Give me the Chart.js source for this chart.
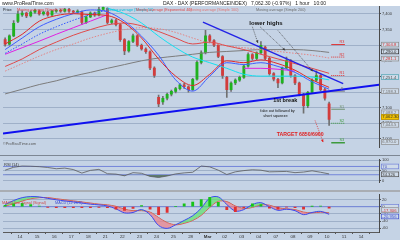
<!DOCTYPE html>
<html>
<head>
<meta charset="utf-8">
<script src="https://cdn.jsdelivr.net/npm/chart.js@4.4.1/dist/chart.umd.min.js"></script>
<style>
  html, body { margin: 0; padding: 0; }
  body { width: 400px; height: 240px; position: relative; overflow: hidden; background: #c5d3e5; }
  canvas { position: absolute; left: 0; }
  .sep { position: absolute; left: 0; width: 400px; }
</style>
</head>
<body>
<canvas id="price" width="400" height="157" style="top:0"></canvas>
<canvas id="rsi" width="400" height="35" style="top:156px"></canvas>
<canvas id="macd" width="400" height="49" style="top:191px"></canvas>
<div class="sep" style="top:155px;height:1px;background:#7d8794"></div>
<div class="sep" style="top:190px;height:2px;background:#a9adb3"></div>
<script>
// DAX hourly, 11 Feb - 10 Mar. Four bars per session, index 0 = first bar of 11 Feb.
const DAY_LABELS = ['14', '15', '16', '17', '18', '21', '22', '23', '24', '25', '28', 'Mar',
  '02', '03', '04', '07', '08', '09', '10', '11', '14'];

const OPEN = [7318, 7303, 7330, 7376, 7397, 7403, 7394, 7406, 7409, 7400, 7406, 7397, 7409, 7412, 7409, 7415,
  7409, 7406, 7406, 7373, 7391, 7403, 7397, 7415, 7418, 7373, 7379, 7366, 7318, 7282, 7312, 7330,
  7300, 7288, 7279, 7227, 7133, 7118, 7130, 7143, 7152, 7161, 7173, 7167, 7158, 7191, 7245, 7276,
  7330, 7315, 7300, 7264, 7197, 7158, 7179, 7188, 7197, 7233, 7270, 7258, 7276, 7294, 7258, 7209,
  7191, 7179, 7227, 7251, 7203, 7179, 7143, 7106, 7149, 7188, 7203, 7158, 7112];
const HIGH = [7324, 7333, 7379, 7409, 7410, 7406, 7410, 7416, 7413, 7409, 7409, 7412, 7416, 7415, 7418, 7418,
  7412, 7413, 7409, 7394, 7407, 7406, 7422, 7423, 7420, 7384, 7383, 7369, 7321, 7315, 7336, 7333,
  7304, 7292, 7282, 7231, 7140, 7136, 7147, 7156, 7165, 7177, 7178, 7170, 7194, 7250, 7282, 7348,
  7334, 7318, 7303, 7267, 7200, 7183, 7192, 7201, 7236, 7276, 7273, 7279, 7312, 7297, 7261, 7212,
  7194, 7230, 7262, 7254, 7206, 7182, 7146, 7152, 7192, 7218, 7206, 7162, 7118];
const LOW = [7297, 7300, 7327, 7372, 7392, 7388, 7391, 7402, 7396, 7396, 7393, 7394, 7405, 7405, 7406, 7405,
  7402, 7402, 7366, 7370, 7388, 7392, 7394, 7412, 7368, 7368, 7362, 7312, 7270, 7278, 7308, 7296,
  7284, 7274, 7222, 7197, 7103, 7110, 7125, 7138, 7147, 7157, 7162, 7150, 7155, 7188, 7240, 7272,
  7310, 7295, 7260, 7194, 7133, 7152, 7174, 7184, 7194, 7230, 7252, 7254, 7272, 7254, 7204, 7186,
  7164, 7176, 7224, 7198, 7174, 7138, 7082, 7100, 7145, 7184, 7154, 7124, 7043];
const CLOSE = [7303, 7330, 7370, 7400, 7403, 7394, 7406, 7412, 7400, 7406, 7397, 7409, 7412, 7409, 7415, 7409,
  7406, 7409, 7373, 7391, 7403, 7397, 7415, 7421, 7373, 7379, 7366, 7318, 7282, 7312, 7330, 7300,
  7288, 7279, 7227, 7203, 7112, 7130, 7143, 7152, 7161, 7173, 7167, 7158, 7191, 7245, 7276, 7330,
  7315, 7300, 7264, 7203, 7158, 7179, 7188, 7197, 7233, 7270, 7258, 7276, 7300, 7258, 7209, 7191,
  7179, 7227, 7251, 7203, 7179, 7143, 7106, 7149, 7188, 7203, 7158, 7130, 7062];

// moving averages, one reading per session start
const MA20 = [7304, 7335, 7377, 7395, 7401, 7398, 7395, 7371, 7323, 7256, 7201, 7171, 7207, 7250, 7244, 7253, 7241, 7220, 7189, 7165];
const EMA40 = [7232, 7256, 7286, 7310, 7332, 7350, 7365, 7371, 7362, 7344, 7323, 7304, 7310, 7298, 7286, 7271, 7256, 7241, 7226, 7210];
const MA100 = [7217, 7241, 7265, 7286, 7304, 7323, 7338, 7350, 7356, 7353, 7341, 7323, 7307, 7298, 7292, 7286, 7280, 7274, 7268, 7259];
const MA200 = [7144, 7159, 7174, 7186, 7201, 7213, 7226, 7238, 7250, 7259, 7265, 7271, 7277, 7280, 7283, 7286, 7286, 7286, 7283, 7277];
const MA50 = [null, null, null, null, null, null, 7419, 7401, 7371, 7329, 7292, 7262, 7244, 7226, 7207, 7201, 7201, 7201, 7198, 7189];
const MA_BLUE = [7286, 7323, 7359, 7383, 7401, 7413, 7407, 7377, 7329, 7268, 7189, 7153, 7201, 7244, 7238, 7244, 7232, 7213, 7183, 7159];
const MA_BLUE_DOT = [7274, 7304, 7335, 7359, 7380, 7398, 7413, null, null, null, null, null, null, null, null, null, null, null, null, null];
const MA_MAGENTA = [7271, 7292, 7313, 7335, 7356, 7377, 7398, null, null, null, null, null, null, null, 7226, 7226, 7223, 7217, null, null];

// hand-drawn trend lines: [bar index, price]
const SUPPORT = [[-0.5, 7017], [88, 7174]];
const RESISTANCE = [[46.4, 7374], [79.3, 7177]];

const PIVOT_NAMES = ['R3', 'R2', 'R1', 'P', 'S1', 'S2', 'S3'];
const PIVOT_LEVELS = [7302, 7262, 7203, 7153, 7095, 7050, 6988];
const PIVOT_SPAN = [76.5, 79.7];

const NOTE_TEXT = ['lower highs', '1st break', 'fake out followed by', 'short squeeze', 'TARGET 6850/6900'];
const NOTE_AT = [[61.2, 7371], [65.7, 7123], [63.9, 7090], [63.4, 7075], [69.2, 7014]];
const ARROWS = [
  [[58.0, 7359], [59.3, 7307]],
  [[59.8, 7359], [65.7, 7283]],
  [[64.0, 7347], [72.2, 7216]],
  [[72.7, 7059], [74.6, 6989]],
];

const PRICE_TICKS = [7000, 7050, 7100, 7150, 7200, 7250, 7300, 7350, 7400];
const PRICE_TAGS = ['7,304.8', '7,290.0', '7,281.1', '7,251.4', '7,198.3', '7,088.2', '7,062.30', '7,044.5', '6,970.0'];
const PRICE_TAG_AT = [7302, 7280, 7257, 7198, 7153, 7085, 7070, 7045, 6990];

// RSI(14) and MACD(12,26,9), one reading every second bar
const RSI = [52, 66, 72, 71, 69, 65, 59, 62, 55, 38, 51, 56, 35, 33, 25, 40, 37, 22, 17, 24,
  34, 39, 42, 72, 68, 52, 31, 44, 50, 54, 52, 44, 45, 46, 40, 43, 49, 42, 34];
const RSI_TICKS = [0, 50, 100];
const RSI_TAGS = ['70', '34.326'];
const RSI_TAG_AT = [70, 32];

const MACD = [6, 17, 25, 28, 27, 23, 19, 16, 13, 10, 7, 5, 2, -6, -17, -16, -8, -22, -52, -60,
  -50, -38, -25, -4, 24, 27, 6, -12, -8, 6, 11, 0, -10, -7, -11, -22, -16, -13, -21];
const SIGNAL = [2, 8, 16, 22, 25, 25, 22, 19, 16, 13, 10, 7, 5, 1, -7, -11, -11, -15, -30, -44,
  -50, -46, -38, -24, -2, 15, 14, 2, -5, -2, 5, 4, -3, -6, -8, -15, -17, -15, -17];
const HIST = [4, 8, 9, 6, 2, -2, -3, -3, -3, -3, -3, -2, -3, -7, -10, -5, 3, -7, -22, -16,
  0, 8, 13, 20, 26, 12, -8, -14, -3, 8, 6, -4, -7, -1, -3, -7, 1, 2, -4];
const MACD_TICKS = [-60, -40, -20, 0, 20];
const MACD_TAGS = ['0', '-17.306', '-20.956'];
const MACD_TAG_AT = [0, -9.3, -27];

const FONT = '"Liberation Sans", Arial, sans-serif';
const GRID = 'rgba(112,132,165,0.45)';
const X_MIN = -0.5;
const X_MAX = 87.7;
const BARS_PER_DAY = 4;

const pt = (pairs) => pairs.map(([x, y]) => ({ x, y }));

function xScale(show) {
  return {
    type: 'linear',
    min: X_MIN,
    max: X_MAX,
    offset: false,
    display: show,
    afterBuildTicks: (s) => {
      s.ticks = DAY_LABELS.map((_, k) => ({ value: BARS_PER_DAY * (k + 1) - 0.5 }));
    },
    afterFit: (s) => { s.height = 8; },
    ticks: {
      autoSkip: false,
      maxRotation: 0,
      padding: 0.5,
      color: '#333',
      font: (c) => ({ family: FONT, size: 4.4, weight: DAY_LABELS[c.index] === 'Mar' ? 'bold' : 'normal' }),
      callback: (v, i) => DAY_LABELS[i],
    },
    grid: { drawOnChartArea: false, tickLength: 2, tickColor: '#555' },
    border: { color: '#5a5a5a' },
  };
}

function yScale(min, max, ticks, fmt) {
  return {
    position: 'right',
    min,
    max,
    afterBuildTicks: (s) => { s.ticks = ticks.map((value) => ({ value })); },
    afterFit: (s) => { s.width = 21; },
    ticks: { font: { family: FONT, size: 4 }, color: '#3a3a3a', padding: 1, callback: fmt },
    grid: { color: GRID, tickColor: '#555', tickLength: 2 },
    border: { color: '#4a4a4a' },
  };
}

function baseOptions(padding) {
  return {
    responsive: false,
    animation: false,
    devicePixelRatio: 1,
    events: [],
    layout: { padding, autoPadding: false },
    plugins: { legend: { display: false }, tooltip: { enabled: false } },
  };
}

function maLine(values, color, width, dash, order) {
  return {
    type: 'line',
    data: values.map((v, d) => ({ x: d * BARS_PER_DAY, y: v })),
    borderColor: color,
    borderWidth: width,
    borderDash: dash,
    pointRadius: 0,
    cubicInterpolationMode: 'monotone',
    spanGaps: false,
    order,
  };
}

function flatLine(level, from, to, color, width, dash, order) {
  return {
    type: 'line',
    data: [{ x: from, y: level }, { x: to, y: level }],
    borderColor: color,
    borderWidth: width,
    borderDash: dash,
    pointRadius: 0,
    order,
  };
}

function drawTags(chart, scaleId, texts, levels, styles) {
  const { ctx, chartArea } = chart;
  const s = chart.scales[scaleId];
  const x = chartArea.right + 2;
  const w = chart.width - x - 1;
  const h = 5.4;
  ctx.save();
  ctx.font = `4.2px ${FONT}`;
  ctx.textBaseline = 'middle';
  texts.forEach((t, i) => {
    const y = s.getPixelForValue(levels[i]);
    const st = styles[i];
    ctx.fillStyle = st[0];
    ctx.fillRect(x, y - h / 2, w, h);
    ctx.strokeStyle = st[1];
    ctx.lineWidth = 0.7;
    ctx.strokeRect(x + 0.35, y - h / 2 + 0.35, w - 0.7, h - 0.7);
    ctx.fillStyle = st[2];
    ctx.fillText(t, x + 1.3, y + 0.3);
  });
  ctx.restore();
}

function arrow(ctx, x1, y1, x2, y2, color) {
  ctx.strokeStyle = color;
  ctx.fillStyle = color;
  ctx.lineWidth = 0.7;
  ctx.setLineDash([1, 1]);
  ctx.beginPath();
  ctx.moveTo(x1, y1);
  ctx.lineTo(x2, y2);
  ctx.stroke();
  ctx.setLineDash([]);
  const a = Math.atan2(y2 - y1, x2 - x1);
  ctx.beginPath();
  ctx.moveTo(x2, y2);
  ctx.lineTo(x2 - 3 * Math.cos(a - 0.45), y2 - 3 * Math.sin(a - 0.45));
  ctx.lineTo(x2 - 3 * Math.cos(a + 0.45), y2 - 3 * Math.sin(a + 0.45));
  ctx.closePath();
  ctx.fill();
}

const LEGEND = [
  ['Price', '#1a1a1a', 3],
  ['Moving average (Simple 20)', '#e03a3a', 17],
  ['Moving average (Simple 50)', '#00b8d8', 106],
  ['Moving average (Exponential 40)', '#e04a4a', 136],
  ['Moving average (Simple 100)', '#e07a7a', 189],
  ['Moving average (Simple 200)', '#6e6e6e', 256],
];
const PIVOT_STYLE = [
  ['#e03030', [], 1], ['#e03030', [1, 1], 1], ['#e03030', [1, 1], 1], ['#7a7a7a', [], 1],
  ['#6d8f6d', [], 1], ['#3d9a3d', [1, 1], 1], ['#3d9a3d', [], 1.5],
];
const NOTE_STYLE = [
  ['bold 6px', '#111'], ['bold 5.5px', '#111'], ['3.9px', '#111'], ['3.9px', '#111'], ['bold 5.2px', '#e01e1e'],
];
const TAG_STYLE = [
  ['#cfdbe9', '#8a8a8a', '#d03030'], ['#cfdbe9', '#303030', '#303030'], ['#cfdbe9', '#8a8a8a', '#d03030'],
  ['#cfdbe9', '#4aa0b0', '#505050'], ['#cfdbe9', '#8a8a8a', '#707070'], ['#cfdbe9', '#8a8a8a', '#707070'],
  ['#f2c200', '#b08a00', '#303030'], ['#cfdbe9', '#8a8a8a', '#707070'], ['#cfdbe9', '#8a8a8a', '#707070'],
];

const priceDecor = {
  id: 'priceDecor',
  beforeDraw(chart) {
    const { ctx } = chart;
    ctx.save();
    ctx.fillStyle = '#ffffff';
    ctx.fillRect(0, 0, chart.width, 6);
    ctx.fillStyle = '#222';
    ctx.font = `5px ${FONT}`;
    ctx.textBaseline = 'middle';
    ctx.fillText('www.ProRealTime.com', 2, 3.2);
    ctx.fillText('DAX - DAX (PERFORMANCEINDEX)   7,062.30 (-0.97%)   1 hour   10:00', 163, 3.2);
    ctx.restore();
  },
  afterDatasetsDraw(chart) {
    const { ctx, chartArea, scales } = chart;
    const px = (x) => scales.x.getPixelForValue(x);
    const py = (y) => scales.y.getPixelForValue(y);
    ctx.save();
    ctx.textBaseline = 'middle';
    ctx.font = `3.8px ${FONT}`;
    LEGEND.forEach(([t, c, x]) => { ctx.fillStyle = c; ctx.fillText(t, x, chartArea.top + 3.6); });
    ctx.fillStyle = '#555';
    ctx.fillText('\u00a9ProRealTime.com', 3, chartArea.bottom - 3.5);

    ARROWS.forEach(([a, b], i) => {
      arrow(ctx, px(a[0]), py(a[1]), px(b[0]), py(b[1]), i === 3 ? '#e01e1e' : '#3a3a3a');
    });

    ctx.textAlign = 'center';
    NOTE_TEXT.forEach((t, i) => {
      ctx.font = `${NOTE_STYLE[i][0]} ${FONT}`;
      ctx.fillStyle = NOTE_STYLE[i][1];
      ctx.fillText(t, px(NOTE_AT[i][0]), py(NOTE_AT[i][1]));
    });

    ctx.font = `3.8px ${FONT}`;
    PIVOT_NAMES.forEach((n, i) => {
      ctx.fillStyle = PIVOT_STYLE[i][0];
      ctx.fillText(n, px(PIVOT_SPAN[1]) - 3, py(PIVOT_LEVELS[i]) - 2.2);
    });
    ctx.restore();
  },
  afterDraw(chart) {
    drawTags(chart, 'y', PRICE_TAGS, PRICE_TAG_AT, TAG_STYLE);
  },
};

const barIdx = CLOSE.map((_, i) => i);
const isUp = (i) => CLOSE[i] >= OPEN[i];

new Chart(document.getElementById('price'), {
  type: 'bar',
  data: {
    datasets: [
      {
        type: 'bar',
        data: barIdx.map((i) => ({ x: i, y: [LOW[i], HIGH[i]] })),
        backgroundColor: '#707070',
        barThickness: 1,
        grouped: false,
        order: 21,
      },
      {
        type: 'bar',
        data: barIdx.map((i) => ({ x: i, y: [OPEN[i], CLOSE[i]] })),
        backgroundColor: barIdx.map((i) => (isUp(i) ? '#1fb21f' : '#d23c3c')),
        barThickness: 2.2,
        grouped: false,
        order: 20,
      },
      maLine(MA200, '#7c7c7c', 1, [], 12),
      maLine(MA100, '#e38585', 1, [1.5, 1.5], 11),
      maLine(EMA40, '#e04a4a', 1, [], 10),
      maLine(MA50, '#14e0f0', 1, [], 9),
      maLine(MA_MAGENTA, '#e020e0', 1, [], 8),
      maLine(MA_BLUE_DOT, '#3355ff', 1, [1.5, 1.5], 7),
      maLine(MA_BLUE, '#3f5cff', 1, [], 6),
      maLine(MA20, '#e02828', 1, [], 5),
      { type: 'line', data: pt(SUPPORT), borderColor: '#1010f0', borderWidth: 2, pointRadius: 0, order: 1 },
      { type: 'line', data: pt(RESISTANCE), borderColor: '#2323e6', borderWidth: 1.4, pointRadius: 0, order: 1 },
      ...PIVOT_LEVELS.map((lv, i) => flatLine(lv, PIVOT_SPAN[0], PIVOT_SPAN[1],
        PIVOT_STYLE[i][0], PIVOT_STYLE[i][2], PIVOT_STYLE[i][1], 2)),
    ],
  },
  options: {
    ...baseOptions({ left: 3, top: 6.5, right: 0, bottom: 2 }),
    scales: {
      x: xScale(false),
      y: yScale(6974, 7424, PRICE_TICKS, (v) => v.toLocaleString('en-US')),
    },
  },
  plugins: [priceDecor],
});

const rsiDecor = {
  id: 'rsiDecor',
  afterDatasetsDraw(chart) {
    const { ctx, chartArea } = chart;
    ctx.save();
    ctx.font = `4px ${FONT}`;
    ctx.fillStyle = '#333';
    ctx.textBaseline = 'middle';
    ctx.fillText('RSI (14)', 4, chartArea.top + 5.5);
    ctx.restore();
  },
  afterDraw(chart) {
    drawTags(chart, 'y', RSI_TAGS, RSI_TAG_AT, [
      ['#cfdbe9', '#6f7fd8', '#4a58b8'], ['#cfdbe9', '#505050', '#404040'],
    ]);
  },
};

new Chart(document.getElementById('rsi'), {
  type: 'line',
  data: {
    datasets: [
      {
        data: RSI.map((v, j) => ({ x: j * 2, y: v })),
        borderColor: '#5a5a5a',
        borderWidth: 0.8,
        pointRadius: 0,
        fill: { target: { value: 30 }, above: 'rgba(0,0,0,0)', below: '#5d7c6f' },
        order: 1,
      },
      flatLine(70, X_MIN, X_MAX, '#7384d9', 1, [], 2),
      flatLine(30, X_MIN, X_MAX, '#7384d9', 1, [], 2),
    ],
  },
  options: {
    ...baseOptions({ left: 3, top: 1, right: 0, bottom: 1 }),
    scales: {
      x: xScale(false),
      y: yScale(-5, 104, RSI_TICKS, (v) => String(v)),
    },
  },
  plugins: [rsiDecor],
});

const macdDecor = {
  id: 'macdDecor',
  afterDatasetsDraw(chart) {
    const { ctx, chartArea } = chart;
    ctx.save();
    ctx.font = `3.8px ${FONT}`;
    ctx.textBaseline = 'middle';
    ctx.fillStyle = '#d04848';
    ctx.fillText('MACD line Signal (Signal)', 2, chartArea.top + 9);
    ctx.fillStyle = '#4050d0';
    ctx.fillText('MACD (12 26 9)', 55, chartArea.top + 9);
    ctx.restore();
  },
  afterDraw(chart) {
    drawTags(chart, 'y', MACD_TAGS, MACD_TAG_AT, [
      ['#cfdbe9', '#6f7fd8', '#404040'], ['#cfdbe9', '#8a8a8a', '#d03030'], ['#cfdbe9', '#4050d0', '#4050d0'],
    ]);
  },
};

new Chart(document.getElementById('macd'), {
  type: 'bar',
  data: {
    datasets: [
      {
        type: 'line',
        data: MACD.map((v, j) => ({ x: j * 2, y: v })),
        borderColor: '#3a4af0',
        borderWidth: 1,
        pointRadius: 0,
        tension: 0.35,
        fill: { target: '+1', above: 'rgba(95,225,110,0.7)', below: 'rgba(238,125,135,0.7)' },
        order: 2,
      },
      {
        type: 'line',
        data: SIGNAL.map((v, j) => ({ x: j * 2, y: v })),
        borderColor: '#e04848',
        borderWidth: 1,
        pointRadius: 0,
        tension: 0.35,
        order: 3,
      },
      {
        type: 'bar',
        data: HIST.map((v, j) => ({ x: j * 2, y: v })),
        backgroundColor: HIST.map((v) => (v >= 0 ? '#16c416' : '#e03030')),
        barThickness: 2.2,
        grouped: false,
        order: 1,
      },
      flatLine(0, X_MIN, X_MAX, '#7384d9', 1, [], 4),
    ],
  },
  options: {
    ...baseOptions({ left: 3, top: 2, right: 0, bottom: 0 }),
    scales: {
      x: xScale(true),
      y: yScale(-70, 34, MACD_TICKS, (v) => String(v)),
    },
  },
  plugins: [macdDecor],
});
</script>
</body>
</html>
